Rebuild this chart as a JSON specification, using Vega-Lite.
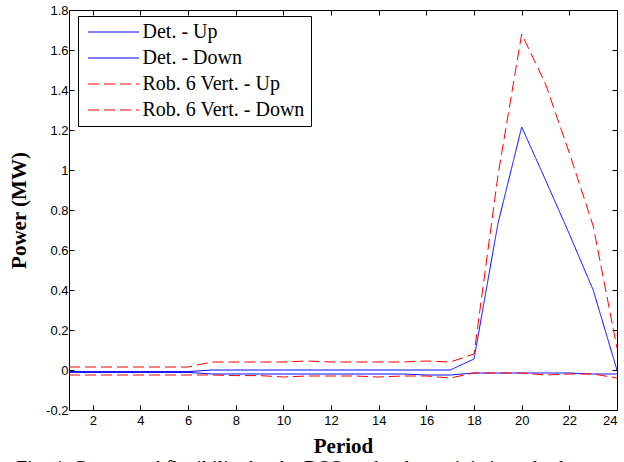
{
  "$schema": "https://vega.github.io/schema/vega-lite/v6.json",
  "width": 548,
  "height": 400,
  "autosize": "none",
  "padding": {"left": 69, "top": 10, "right": 7, "bottom": 52},
  "background": "white",
  "title": {
    "text": "Fig. 4.  Contracted flexibility by the DSO under deterministic and robust approaches",
    "orient": "bottom",
    "anchor": "start",
    "frame": "group",
    "dx": -53,
    "offset": 3,
    "baseline": "top",
    "font": "Liberation Serif",
    "fontSize": 20,
    "fontWeight": "normal",
    "color": "black"
  },
  "config": {
    "view": {"stroke": null},
    "axis": {
      "grid": false,
      "domainColor": "black",
      "domainWidth": 1,
      "tickColor": "black",
      "tickWidth": 1,
      "tickSize": -5,
      "labelFont": "Liberation Sans",
      "labelFontSize": 13,
      "labelColor": "black",
      "titleFont": "Liberation Serif",
      "titleFontWeight": "bold",
      "titleFontSize": 21,
      "titleColor": "black"
    },
    "legend": {
      "orient": "none",
      "legendX": 9,
      "legendY": 6,
      "symbolType": "M-3,0H3",
      "symbolSize": 289,
      "symbolStrokeWidth": 1,
      "labelFont": "Liberation Serif",
      "labelFontSize": 20,
      "labelLimit": 400,
      "labelColor": "black",
      "padding": 6,
      "rowPadding": 6,
      "strokeColor": "black",
      "fillColor": "white",
      "symbolOffset": 19.5,
      "labelOffset": 19,
      "cornerRadius": 0
    }
  },
  "data": {
    "values": [
      {"period": 1, "value": -0.008, "series": "Det. - Up"},
      {"period": 2, "value": -0.008, "series": "Det. - Up"},
      {"period": 3, "value": -0.008, "series": "Det. - Up"},
      {"period": 4, "value": -0.008, "series": "Det. - Up"},
      {"period": 5, "value": -0.008, "series": "Det. - Up"},
      {"period": 6, "value": -0.008, "series": "Det. - Up"},
      {"period": 7, "value": 0.0, "series": "Det. - Up"},
      {"period": 8, "value": 0.0, "series": "Det. - Up"},
      {"period": 9, "value": 0.0, "series": "Det. - Up"},
      {"period": 10, "value": 0.0, "series": "Det. - Up"},
      {"period": 11, "value": 0.0, "series": "Det. - Up"},
      {"period": 12, "value": 0.0, "series": "Det. - Up"},
      {"period": 13, "value": 0.0, "series": "Det. - Up"},
      {"period": 14, "value": 0.0, "series": "Det. - Up"},
      {"period": 15, "value": 0.0, "series": "Det. - Up"},
      {"period": 16, "value": 0.0, "series": "Det. - Up"},
      {"period": 17, "value": 0.0, "series": "Det. - Up"},
      {"period": 18, "value": 0.055, "series": "Det. - Up"},
      {"period": 19, "value": 0.73, "series": "Det. - Up"},
      {"period": 20, "value": 1.215, "series": "Det. - Up"},
      {"period": 21, "value": 0.95, "series": "Det. - Up"},
      {"period": 22, "value": 0.68, "series": "Det. - Up"},
      {"period": 23, "value": 0.4, "series": "Det. - Up"},
      {"period": 24, "value": 0.0, "series": "Det. - Up"},
      {"period": 1, "value": -0.012, "series": "Det. - Down"},
      {"period": 2, "value": -0.012, "series": "Det. - Down"},
      {"period": 3, "value": -0.012, "series": "Det. - Down"},
      {"period": 4, "value": -0.012, "series": "Det. - Down"},
      {"period": 5, "value": -0.012, "series": "Det. - Down"},
      {"period": 6, "value": -0.012, "series": "Det. - Down"},
      {"period": 7, "value": -0.02, "series": "Det. - Down"},
      {"period": 8, "value": -0.02, "series": "Det. - Down"},
      {"period": 9, "value": -0.02, "series": "Det. - Down"},
      {"period": 10, "value": -0.02, "series": "Det. - Down"},
      {"period": 11, "value": -0.02, "series": "Det. - Down"},
      {"period": 12, "value": -0.02, "series": "Det. - Down"},
      {"period": 13, "value": -0.02, "series": "Det. - Down"},
      {"period": 14, "value": -0.02, "series": "Det. - Down"},
      {"period": 15, "value": -0.02, "series": "Det. - Down"},
      {"period": 16, "value": -0.025, "series": "Det. - Down"},
      {"period": 17, "value": -0.025, "series": "Det. - Down"},
      {"period": 18, "value": -0.015, "series": "Det. - Down"},
      {"period": 19, "value": -0.015, "series": "Det. - Down"},
      {"period": 20, "value": -0.015, "series": "Det. - Down"},
      {"period": 21, "value": -0.015, "series": "Det. - Down"},
      {"period": 22, "value": -0.015, "series": "Det. - Down"},
      {"period": 23, "value": -0.02, "series": "Det. - Down"},
      {"period": 24, "value": -0.02, "series": "Det. - Down"},
      {"period": 1, "value": 0.015, "series": "Rob. 6 Vert. - Up"},
      {"period": 2, "value": 0.015, "series": "Rob. 6 Vert. - Up"},
      {"period": 3, "value": 0.015, "series": "Rob. 6 Vert. - Up"},
      {"period": 4, "value": 0.015, "series": "Rob. 6 Vert. - Up"},
      {"period": 5, "value": 0.015, "series": "Rob. 6 Vert. - Up"},
      {"period": 6, "value": 0.015, "series": "Rob. 6 Vert. - Up"},
      {"period": 7, "value": 0.04, "series": "Rob. 6 Vert. - Up"},
      {"period": 8, "value": 0.04, "series": "Rob. 6 Vert. - Up"},
      {"period": 9, "value": 0.04, "series": "Rob. 6 Vert. - Up"},
      {"period": 10, "value": 0.04, "series": "Rob. 6 Vert. - Up"},
      {"period": 11, "value": 0.045, "series": "Rob. 6 Vert. - Up"},
      {"period": 12, "value": 0.04, "series": "Rob. 6 Vert. - Up"},
      {"period": 13, "value": 0.04, "series": "Rob. 6 Vert. - Up"},
      {"period": 14, "value": 0.04, "series": "Rob. 6 Vert. - Up"},
      {"period": 15, "value": 0.04, "series": "Rob. 6 Vert. - Up"},
      {"period": 16, "value": 0.045, "series": "Rob. 6 Vert. - Up"},
      {"period": 17, "value": 0.04, "series": "Rob. 6 Vert. - Up"},
      {"period": 18, "value": 0.08, "series": "Rob. 6 Vert. - Up"},
      {"period": 19, "value": 0.97, "series": "Rob. 6 Vert. - Up"},
      {"period": 20, "value": 1.68, "series": "Rob. 6 Vert. - Up"},
      {"period": 21, "value": 1.43, "series": "Rob. 6 Vert. - Up"},
      {"period": 22, "value": 1.085, "series": "Rob. 6 Vert. - Up"},
      {"period": 23, "value": 0.72, "series": "Rob. 6 Vert. - Up"},
      {"period": 24, "value": 0.11, "series": "Rob. 6 Vert. - Up"},
      {"period": 1, "value": -0.025, "series": "Rob. 6 Vert. - Down"},
      {"period": 2, "value": -0.025, "series": "Rob. 6 Vert. - Down"},
      {"period": 3, "value": -0.025, "series": "Rob. 6 Vert. - Down"},
      {"period": 4, "value": -0.025, "series": "Rob. 6 Vert. - Down"},
      {"period": 5, "value": -0.025, "series": "Rob. 6 Vert. - Down"},
      {"period": 6, "value": -0.025, "series": "Rob. 6 Vert. - Down"},
      {"period": 7, "value": -0.025, "series": "Rob. 6 Vert. - Down"},
      {"period": 8, "value": -0.028, "series": "Rob. 6 Vert. - Down"},
      {"period": 9, "value": -0.028, "series": "Rob. 6 Vert. - Down"},
      {"period": 10, "value": -0.035, "series": "Rob. 6 Vert. - Down"},
      {"period": 11, "value": -0.03, "series": "Rob. 6 Vert. - Down"},
      {"period": 12, "value": -0.03, "series": "Rob. 6 Vert. - Down"},
      {"period": 13, "value": -0.03, "series": "Rob. 6 Vert. - Down"},
      {"period": 14, "value": -0.035, "series": "Rob. 6 Vert. - Down"},
      {"period": 15, "value": -0.03, "series": "Rob. 6 Vert. - Down"},
      {"period": 16, "value": -0.03, "series": "Rob. 6 Vert. - Down"},
      {"period": 17, "value": -0.04, "series": "Rob. 6 Vert. - Down"},
      {"period": 18, "value": -0.015, "series": "Rob. 6 Vert. - Down"},
      {"period": 19, "value": -0.015, "series": "Rob. 6 Vert. - Down"},
      {"period": 20, "value": -0.015, "series": "Rob. 6 Vert. - Down"},
      {"period": 21, "value": -0.025, "series": "Rob. 6 Vert. - Down"},
      {"period": 22, "value": -0.02, "series": "Rob. 6 Vert. - Down"},
      {"period": 23, "value": -0.02, "series": "Rob. 6 Vert. - Down"},
      {"period": 24, "value": -0.04, "series": "Rob. 6 Vert. - Down"}
    ]
  },
  "resolve": {"axis": {"x": "independent", "y": "independent"}},
  "layer": [
    {
      "mark": {"type": "line", "strokeWidth": 1, "clip": true},
      "encoding": {
        "x": {
          "field": "period", "type": "quantitative",
          "scale": {"domain": [1, 24], "nice": false, "zero": false},
          "axis": {"orient": "bottom", "values": [2, 4, 6, 8, 10, 12, 14, 16, 18, 20, 22, 24], "title": "Period", "labelPadding": 9, "titlePadding": 8}
        },
        "y": {
          "field": "value", "type": "quantitative",
          "scale": {"domain": [-0.2, 1.8], "nice": false, "zero": false},
          "axis": {"orient": "left", "values": [-0.2, 0, 0.2, 0.4, 0.6, 0.8, 1, 1.2, 1.4, 1.6, 1.8], "labelExpr": "toString(round(datum.value*10)/10)", "title": "Power (MW)", "labelPadding": 6, "titlePadding": 16}
        },
        "color": {
          "field": "series", "type": "nominal",
          "scale": {"domain": ["Det. - Up", "Det. - Down", "Rob. 6 Vert. - Up", "Rob. 6 Vert. - Down"], "range": ["#0000ff", "#0000ff", "#ff0000", "#ff0000"]},
          "legend": {"title": null}
        },
        "strokeDash": {
          "field": "series", "type": "nominal",
          "scale": {"domain": ["Det. - Up", "Det. - Down", "Rob. 6 Vert. - Up", "Rob. 6 Vert. - Down"], "range": [[1, 0], [1, 0], [11, 5], [11, 5]]},
          "legend": {"title": null}
        }
      }
    },
    {
      "mark": {"type": "line", "opacity": 0},
      "encoding": {
        "x": {
          "field": "period", "type": "quantitative",
          "scale": {"domain": [1, 24], "nice": false, "zero": false},
          "axis": {"orient": "top", "values": [2, 4, 6, 8, 10, 12, 14, 16, 18, 20, 22, 24], "labels": false, "title": null}
        },
        "y": {
          "field": "value", "type": "quantitative",
          "scale": {"domain": [-0.2, 1.8], "nice": false, "zero": false},
          "axis": {"orient": "right", "values": [-0.2, 0, 0.2, 0.4, 0.6, 0.8, 1, 1.2, 1.4, 1.6, 1.8], "labels": false, "title": null}
        }
      }
    }
  ]
}
